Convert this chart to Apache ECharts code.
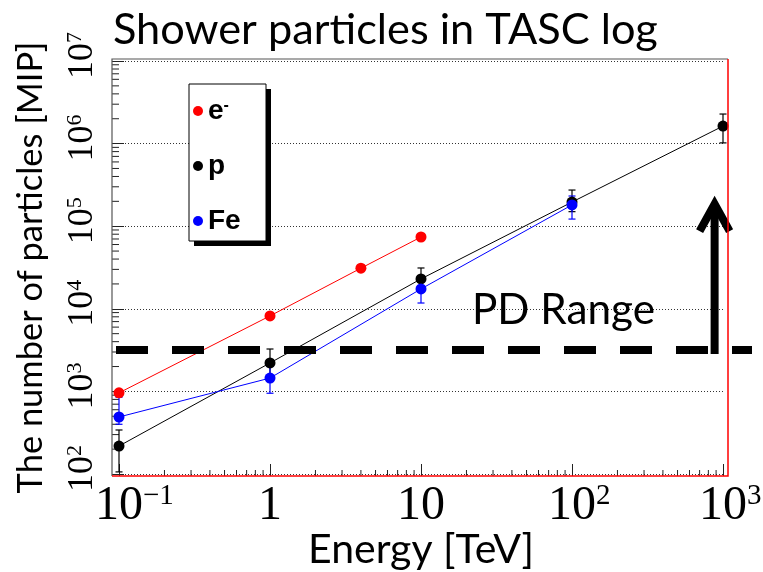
<!DOCTYPE html>
<html><head><meta charset="utf-8">
<script src="https://cdn.jsdelivr.net/npm/echarts@6/dist/echarts.min.js"></script>
<style>html,body{margin:0;padding:0;background:#fff}#c{width:763px;height:572px}</style>
</head><body><div id="c"></div>
<script>
// ---- data ----
const energiesE = [0.1, 1, 4, 10];
const valuesE = [960, 8200, 31000, 74000];
const errLowE = [900, 7700, 29000, 69500];
const errHighE = [1030, 8700, 33000, 79000];

const energiesP = [0.1, 1, 10, 100, 1000];
const valuesP = [218, 2210, 23000, 196000, 1630000];
const errLowP = [106, 1500, 17000, 150000, 1020000];
const errHighP = [341, 3260, 31200, 274000, 2280000];

const energiesFe = [0.1, 1, 10, 100];
const valuesFe = [490, 1450, 17400, 181000];
const errLowFe = [400, 950, 11750, 122000];
const errHighFe = [850, 2000, 23000, 232000];

const xTickValues = [0.1, 1, 10, 100, 1000];
const xTickBase = ['10', '1', '10', '10', '10'];
const xTickExp = ['\u22121', '', '', '2', '3'];
const yTickValues = [1e2, 1e3, 1e4, 1e5, 1e6, 1e7];
const yTickBase = ['10', '10', '10', '10', '10', '10'];
const yTickExp = ['2', '3', '4', '5', '6', '7'];

const seriesNames = ['e-', 'p', 'Fe'];
const pdThreshold = 3162;      // PD range lower edge [MIP]
const arrowEnergy = 880;       // TeV
const arrowTopValue = 207000;  // MIP

const X_MIN = 0.1, X_MAX = 1000, Y_MIN = 100, Y_MAX = 1e7;

// ---- layout ----
const G_LEFT = 119, G_TOP = 61, G_W = 604, G_H = 413;
const OFF_L = 7, OFF_R = 5, OFF_B = 2, OFF_T = 2;
const FR_L = G_LEFT - OFF_L, FR_R = G_LEFT + G_W + OFF_R, FR_T = G_TOP - OFF_T, FR_B = G_TOP + G_H + OFF_B;

// ---- helpers ----
const cv = document.createElement('canvas').getContext('2d');
function measure(text, font) { cv.font = font; return cv.measureText(text).width; }
function fit(text, family, target, weight) {
  return 100 * target / measure(text, (weight || 'normal') + ' 100px ' + family);
}
const SERIF = 'Liberation Serif';
const SANS = 'Lato';
const XL_B = 48, XL_S = 29, YL_B = 36, YL_S = 22;

function tickIndex(list, v) {
  for (let i = 0; i < list.length; i++) if (Math.abs(Math.log10(v) - Math.log10(list[i])) < 1e-6) return i;
  return -1;
}
function makeLabel(list, base, exp, sw) {
  return function (v) {
    const i = tickIndex(list, v);
    if (i < 0) return '';
    if (!exp[i]) return '{b|' + base[i] + '}';
    return '{' + sw[i] + '| }{b|' + base[i] + '}{s|' + exp[i] + '}';
  };
}
const xSpacer = {}; const xSw = [];
xTickExp.forEach((e, i) => { const w = measure(e, XL_S + 'px ' + SERIF); xSpacer['sp' + i] = { width: w, fontSize: XL_S }; xSw.push('sp' + i); });
const ySpacer = {}; const ySw = [];
yTickExp.forEach((e, i) => { const w = measure(e, YL_S + 'px ' + SERIF); ySpacer['sp' + i] = { width: w, fontSize: YL_S }; ySw.push('sp' + i); });

const minorTicksX = [], minorTicksY = [];
[-1, 0, 1, 2].forEach(k => { for (let m = 2; m <= 9; m++) minorTicksX.push([m * Math.pow(10, k), Y_MIN]); });
[2, 3, 4, 5, 6].forEach(k => { for (let m = 2; m <= 9; m++) minorTicksY.push([X_MIN, m * Math.pow(10, k)]); });

function pts(xs, ys) { return xs.map((x, i) => [x, ys[i]]); }
function errs(xs, lo, hi) { return xs.map((x, i) => [x, lo[i], hi[i]]); }

function errRender(color) {
  return function (params, api) {
    const x = api.value(0);
    const a = api.coord([x, api.value(1)]);
    const b = api.coord([x, api.value(2)]);
    const c = 3.5;
    return { type: 'group', children: [
      { type: 'line', shape: { x1: a[0], y1: a[1], x2: b[0], y2: b[1] }, style: { stroke: color, lineWidth: 1.2 } },
      { type: 'line', shape: { x1: a[0] - c, y1: a[1], x2: a[0] + c, y2: a[1] }, style: { stroke: color, lineWidth: 1.2 } },
      { type: 'line', shape: { x1: b[0] - c, y1: b[1], x2: b[0] + c, y2: b[1] }, style: { stroke: color, lineWidth: 1.2 } }
    ] };
  };
}
function tickRender(axis, len) {
  return function (params, api) {
    const p = api.coord([api.value(0), api.value(1)]);
    if (axis === 'x') { const y0 = p[1] + OFF_B; return { type: 'line', shape: { x1: p[0], y1: y0, x2: p[0], y2: y0 - len }, style: { stroke: '#222', lineWidth: 1 } }; }
    const x0 = p[0] - OFF_L;
    return { type: 'line', shape: { x1: x0, y1: p[1], x2: x0 + len, y2: p[1] }, style: { stroke: '#222', lineWidth: 1 } };
  };
}

const colors = { 'e-': '#ff0000', 'p': '#000000', 'Fe': '#0000ff' };
const chart = echarts.init(document.getElementById('c'), null, { renderer: 'canvas' });

const titleSize = fit('Shower particles in TASC log', SANS, 545);
const yNameSize = fit('The number of particles [MIP]', SANS, 452);
const xNameSize = fit('Energy [TeV]', SANS, 226);
const pdSize = fit('PD Range', SANS, 183);

const lineSeries = (name, xs, ys) => ({
  type: 'line', name: name, data: pts(xs, ys), symbol: 'circle', symbolSize: 11, clip: false,
  itemStyle: { color: colors[name] }, lineStyle: { color: colors[name], width: 1 }, z: 4,
  emphasis: { disabled: true }, animation: false
});
const errSeries = (name, xs, lo, hi) => ({
  type: 'custom', name: name + '_err', data: errs(xs, lo, hi), renderItem: errRender(colors[name]), z: 3,
  encode: { x: 0, y: [1, 2] }, animation: false, silent: true, clip: false
});

chart.setOption({
  animation: false,
  backgroundColor: '#fff',
  title: { text: 'Shower particles in TASC log', left: 108, top: 4,
    textStyle: { fontFamily: SANS, fontWeight: 'normal', fontSize: titleSize, color: '#000' } },
  grid: { left: G_LEFT, top: G_TOP, width: G_W, height: G_H, show: false, containLabel: false, outerBoundsMode: 'none' },
  xAxis: [{
    type: 'log', min: X_MIN, max: X_MAX, logBase: 10, offset: OFF_B,
    name: 'Energy [TeV]', nameLocation: 'middle', nameGap: 53, nameMoveOverlap: false,
    nameTextStyle: { fontFamily: SANS, fontSize: xNameSize, color: '#000' },
    axisLine: { show: false },
    axisTick: { show: true, inside: true, length: 12, lineStyle: { color: '#222' } },
    splitLine: { show: false }, minorTick: { show: false },
    axisLabel: { show: true, margin: 6,
      formatter: makeLabel(xTickValues, xTickBase, xTickExp, xSw),
      rich: Object.assign({ b: { fontFamily: SERIF, fontSize: XL_B, color: '#000', lineHeight: 48 },
        s: { fontFamily: SERIF, fontSize: XL_S, color: '#000', verticalAlign: 'top', lineHeight: 48 } }, xSpacer) }
  }],
  yAxis: [{
    type: 'log', min: Y_MIN, max: Y_MAX, logBase: 10, offset: OFF_L,
    name: 'The number of particles [MIP]', nameLocation: 'middle', nameGap: 64, nameMoveOverlap: false,
    nameTextStyle: { fontFamily: SANS, fontSize: yNameSize, color: '#000' },
    axisLine: { show: false },
    axisTick: { show: true, inside: true, length: 12, lineStyle: { color: '#222' } },
    splitLine: { show: true, lineStyle: { color: '#333', type: [1, 2], width: 1 } },
    minorTick: { show: false },
    axisLabel: { show: true, rotate: 90, margin: 10,
      formatter: makeLabel(yTickValues, yTickBase, yTickExp, ySw),
      rich: Object.assign({ b: { fontFamily: SERIF, fontSize: YL_B, color: '#000', lineHeight: 38 },
        s: { fontFamily: SERIF, fontSize: YL_S, color: '#000', verticalAlign: 'top', lineHeight: 38 } }, ySpacer) }
  }],
  legend: {
    data: seriesNames.map(n => ({ name: n, icon: 'circle' })),
    orient: 'vertical', left: 193, top: 97, padding: 0, itemGap: 27, itemWidth: 10, itemHeight: 10, z: 20,
    selectedMode: false,
    formatter: function (n) { return n === 'e-' ? '{t|e}{m|-}' : '{t|' + n + '}'; },
    textStyle: { rich: {
      t: { fontFamily: 'Liberation Sans', fontWeight: 'bold', fontSize: 28, color: '#000', lineHeight: 26 },
      m: { fontFamily: 'Liberation Sans', fontWeight: 'bold', fontSize: 16, color: '#000', verticalAlign: 'top', lineHeight: 26 } } }
  },
  series: [
    { type: 'custom', name: 'xminor', data: minorTicksX, renderItem: tickRender('x', 6), z: 3, silent: true, clip: false, encode: { x: 0, y: 1 } },
    { type: 'custom', name: 'yminor', data: minorTicksY, renderItem: tickRender('y', 7), z: 3, silent: true, clip: false, encode: { x: 0, y: 1 } },
    errSeries('e-', energiesE, errLowE, errHighE),
    errSeries('p', energiesP, errLowP, errHighP),
    errSeries('Fe', energiesFe, errLowFe, errHighFe),
    lineSeries('e-', energiesE, valuesE),
    lineSeries('p', energiesP, valuesP),
    lineSeries('Fe', energiesFe, valuesFe)
  ]
});

// frame + annotations positioned through the axes
const yPD = chart.convertToPixel({ yAxisIndex: 0 }, pdThreshold);
const xArrow = chart.convertToPixel({ xAxisIndex: 0 }, arrowEnergy);
const yArrowTop = chart.convertToPixel({ yAxisIndex: 0 }, arrowTopValue);
chart.setOption({
  graphic: [
    { type: 'polyline', z: 8, silent: true, shape: { points: [[FR_L, FR_B], [FR_L, FR_T], [FR_R, FR_T]] }, style: { stroke: '#555', lineWidth: 1.2, fill: null } },
    { type: 'polyline', z: 8, silent: true, shape: { points: [[FR_L, FR_B], [FR_R, FR_B], [FR_R, FR_T]] }, style: { stroke: '#ff0000', lineWidth: 1.5, fill: null } },
    { type: 'rect', z: 5, shape: { x: 194, y: 89, width: 77, height: 157 }, style: { fill: '#000' } },
    { type: 'rect', z: 6, shape: { x: 189, y: 84, width: 77, height: 157 }, style: { fill: '#fff', stroke: '#000', lineWidth: 1 } },
    { type: 'line', z: 7, shape: { x1: 116, y1: yPD, x2: 752, y2: yPD }, style: { stroke: '#000', lineWidth: 8, lineDash: [32, 24] } },
    { type: 'line', z: 7, shape: { x1: xArrow, y1: yPD + 4, x2: xArrow, y2: yArrowTop + 4 }, style: { stroke: '#000', lineWidth: 8 } },
    { type: 'polyline', z: 7, shape: { points: [[xArrow - 15, yArrowTop + 31], [xArrow, yArrowTop + 4], [xArrow + 15, yArrowTop + 31]] },
      style: { stroke: '#000', lineWidth: 8, fill: null, lineJoin: 'miter' } },
    { type: 'text', z: 7, left: 472, top: 289, style: { text: 'PD Range', font: 'normal ' + pdSize + 'px ' + SANS, fill: '#000' } }
  ]
});
</script>
</body></html>
